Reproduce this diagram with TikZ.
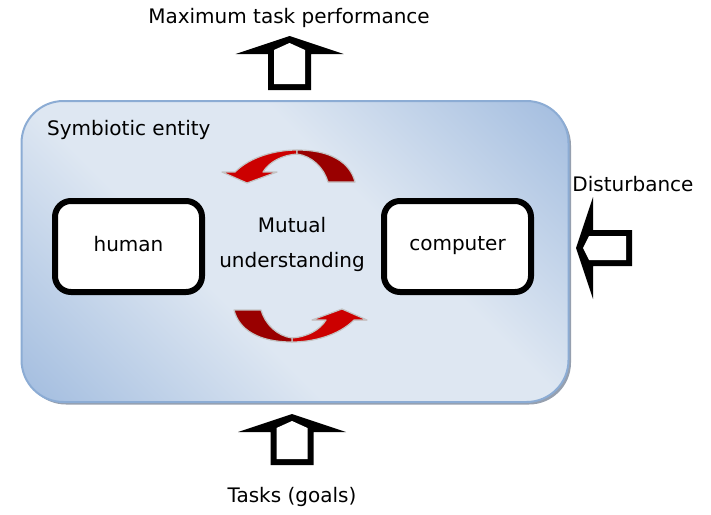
\documentclass[tikz,border=0pt]{standalone}
\usepackage{fontspec}
\setmainfont{DejaVu Sans}
\definecolor{boxedge}{RGB}{140,172,212}
\definecolor{boxdark}{RGB}{156,184,221}
\definecolor{boxlight}{RGB}{222,231,242}
\definecolor{shadowc}{RGB}{150,160,175}
\definecolor{redbright}{RGB}{204,0,0}
\definecolor{reddark}{RGB}{153,0,0}
\definecolor{redline}{RGB}{195,195,195}
\pgfdeclareverticalshading{entshade}{100bp}{color(0bp)=(boxdark); color(12bp)=(boxdark); color(40bp)=(boxlight); color(60bp)=(boxlight); color(88bp)=(boxdark); color(100bp)=(boxdark)}
\newcommand\blkarrow[4]{%
  \fill[black] (-#3,#4) -- (-#3,#2) -- (-#1,#2) -- (0,0) -- (#1,#2) -- (#3,#2) -- (#3,#4) -- cycle;
  \fill[white] ({-#3+6},{#4-6}) -- ({-#3+6},{#2-4}) -- (0,7) -- ({#3-6},{#2-4}) -- ({#3-6},{#4-6}) -- cycle;
}
\newcommand\redpair{%
  \filldraw[redpart, fill=redbright] (297,150) .. controls (275,150) and (250,157) .. (235,172) -- (222,172) -- (247,183) -- (277,172) -- (263,172) .. controls (269,162) and (282,155) .. (297,154) -- cycle;
  \filldraw[redpart, fill=reddark] (297,150) .. controls (330,150) and (350,162) .. (355,182) -- (328,182) .. controls (324,168) and (312,156) .. (297,154) -- cycle;
}
\begin{document}
\begin{tikzpicture}[x=1pt,y=-1pt,
  lbl/.style={font=\fontsize{20pt}{24pt}\selectfont, inner sep=0pt, text=black},
  entity/.style={draw=boxedge, line width=2pt, rounded corners=42pt,
    minimum width=547pt, minimum height=301pt, inner sep=0pt,
    shading=entshade, shading angle=-45},
  entshadow/.style={fill=shadowc, rounded corners=42pt, minimum width=547pt, minimum height=301pt, inner sep=0pt},
  agent/.style={draw=black, line width=6pt, rounded corners=16pt, fill=white,
    minimum width=147pt, minimum height=91pt, inner sep=0pt, font=\fontsize{20pt}{24pt}\selectfont},
  redpart/.style={draw=redline, line width=1.2pt, line join=round}
]
\useasboundingbox (0,0) rectangle (711,514);
\node[entshadow] (shadow) at (297.5,254) {};
\node[entity] (entity) at (295,251.5) {};
\node[lbl, anchor=west] (symb) at (47,130) {Symbiotic entity};
\node[agent] (human) at (128.5,246.5) {\raisebox{6pt}{human}};
\node[agent] (computer) at (457.5,246.5) {\raisebox{6pt}{computer}};
\node[lbl, align=center, font=\fontsize{20pt}{35pt}\selectfont] (mutual) at (292,244) {Mutual\\understanding};
\redpair
\begin{scope}[rotate around={180:(294.5,246)}]
  \redpair
\end{scope}
\begin{scope}[shift={(289.5,36)}]
  \blkarrow{54}{18}{21.5}{54}
\end{scope}
\begin{scope}[shift={(292,414)}]
  \blkarrow{54}{18}{21.5}{51}
\end{scope}
\begin{scope}[shift={(576,248)}, rotate=90]
  \blkarrow{51}{17}{18}{56}
\end{scope}
\node[lbl] (maxperf) at (289,18) {Maximum task performance};
\node[lbl] (tasks) at (292,497) {Tasks (goals)};
\node[lbl] (dist) at (633,184) {Disturbance};
\end{tikzpicture}
\end{document}
